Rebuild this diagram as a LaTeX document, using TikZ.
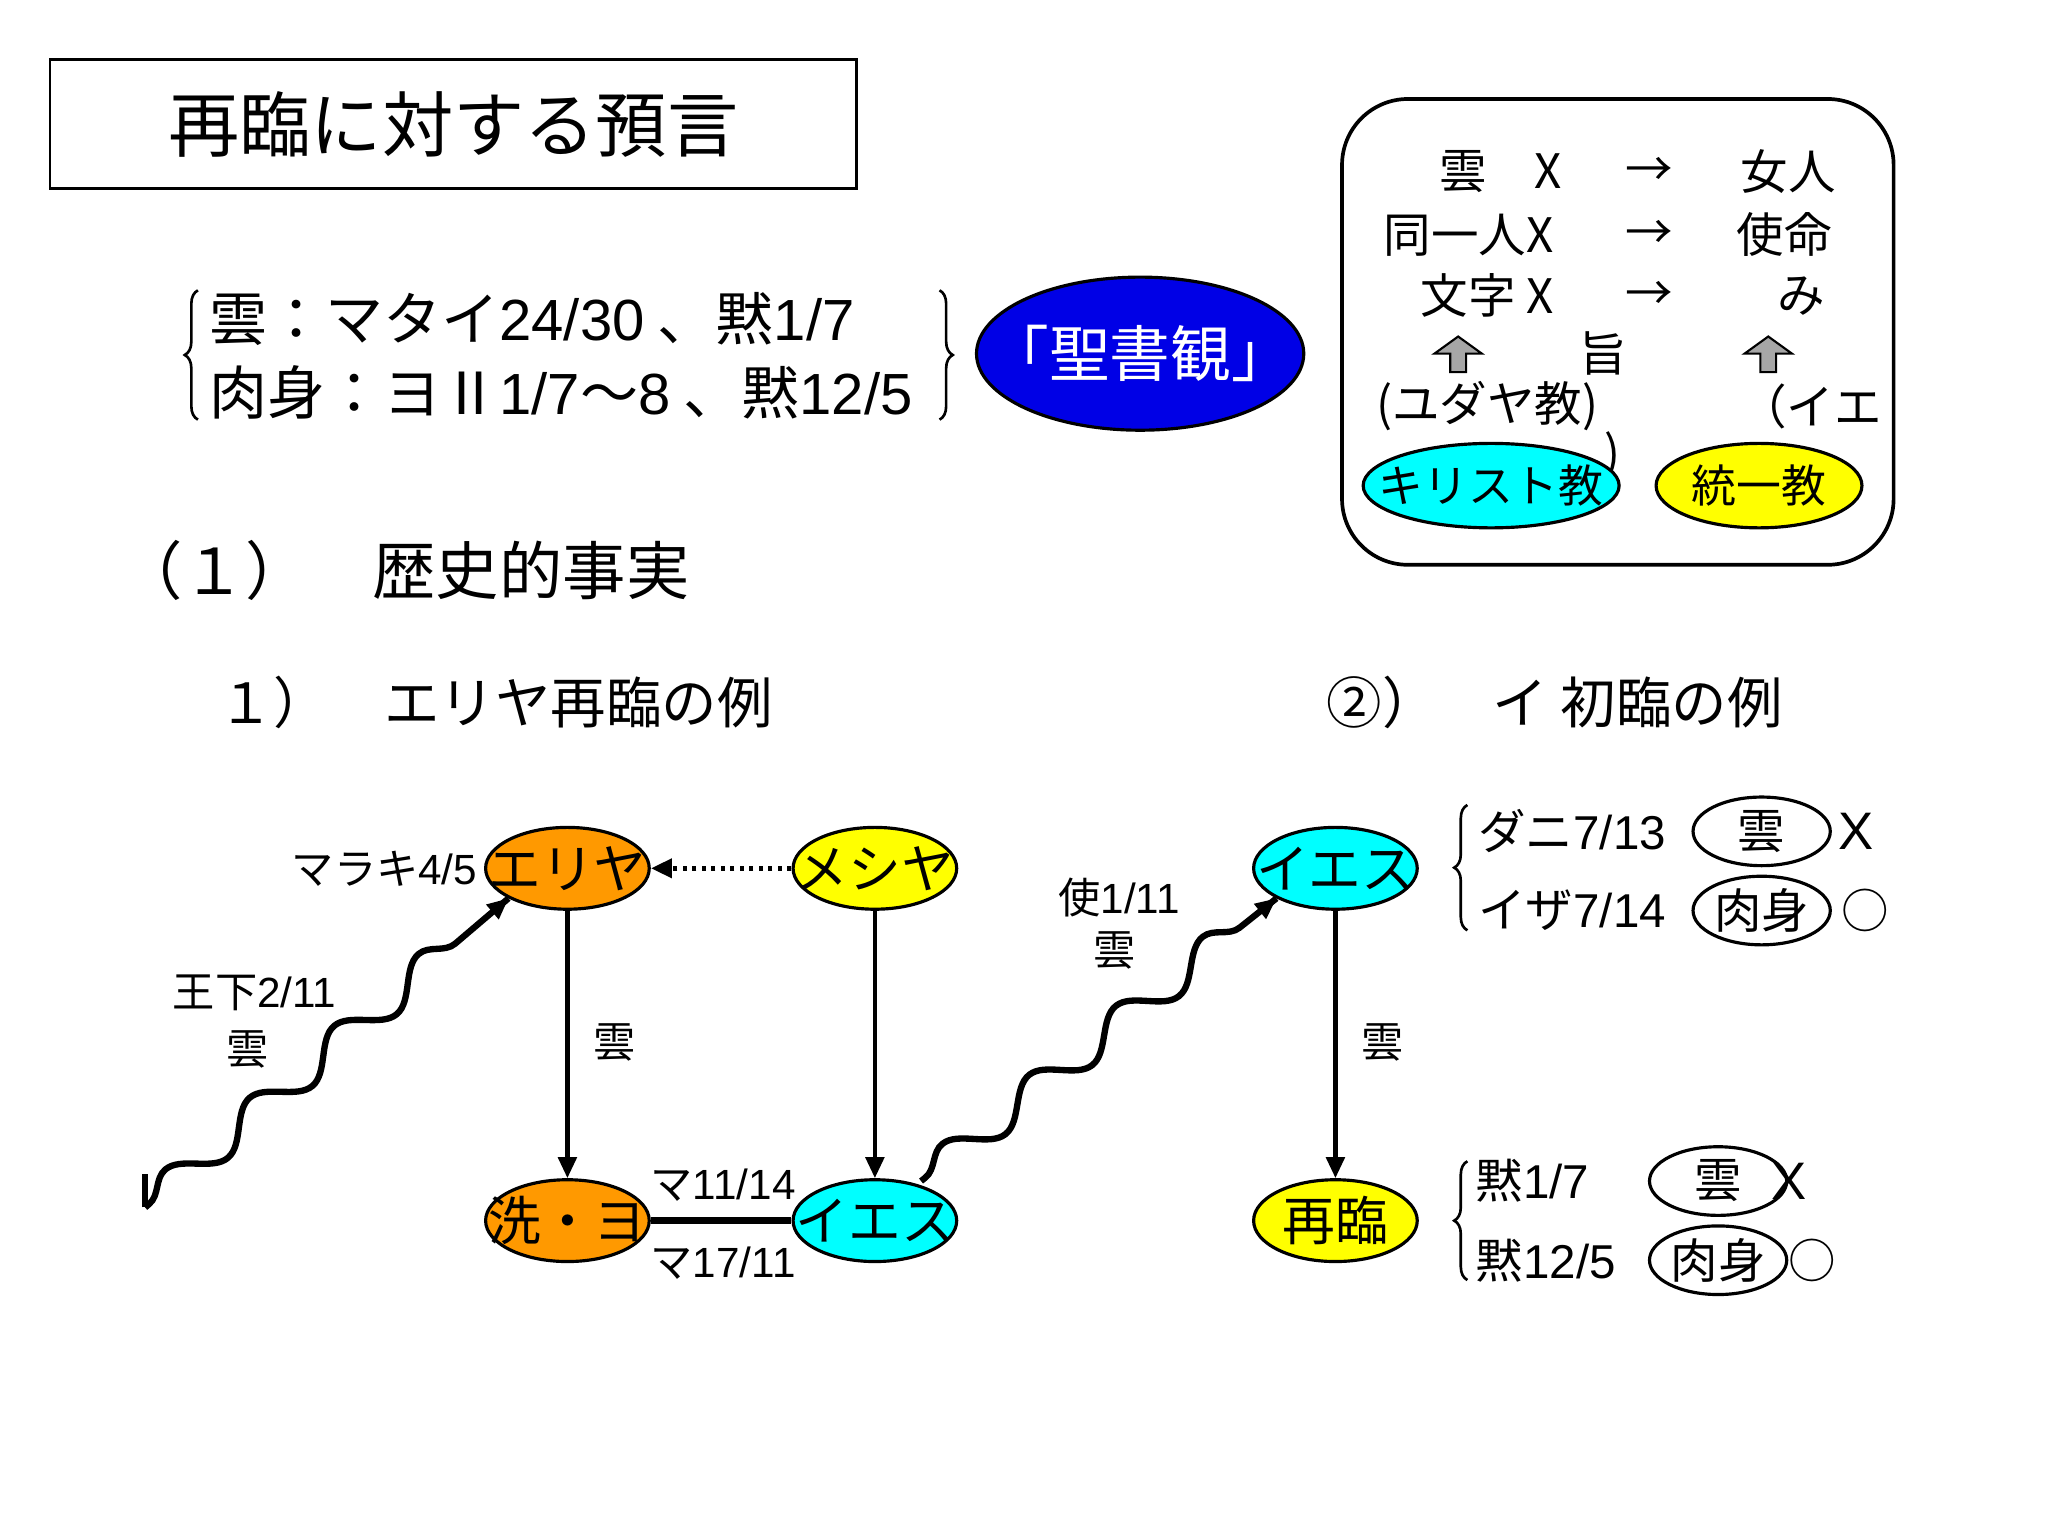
\documentclass[tikz,border=0pt]{standalone}
\usepackage{fontspec}
\setmainfont{Liberation Sans}
\newfontfamily\cjk{Noto Sans CJK JP}
\usetikzlibrary{decorations.pathmorphing,decorations.pathreplacing,arrows.meta,shapes.geometric,calc}
\definecolor{cy}{RGB}{0,255,255}
\definecolor{ye}{RGB}{255,255,0}
\definecolor{og}{RGB}{255,153,0}
\definecolor{bl}{RGB}{0,0,230}
\begin{document}
\begin{tikzpicture}[x=0.5pt,y=-0.5pt,
 every node/.style={font=\cjk},
 oval/.style={draw,line width=1.2pt,ellipse,inner sep=0pt,minimum width=62pt,minimum height=31pt,label={[font=\cjk\fontsize{20}{20}\selectfont]center:#1}},
 sm/.style={draw,line width=1.2pt,ellipse,inner sep=0pt,minimum width=52pt,minimum height=26pt,label={[font=\cjk\fontsize{18}{18}\selectfont]center:#1}},
 lab/.style={font=\cjk\fontsize{16}{16}\selectfont,inner sep=0pt},
 arr/.style={-{Triangle[length=8pt,width=7pt]},line width=1.6pt},
 br/.style={decorate,decoration={brace,amplitude=5pt},line width=1pt},
 wave/.style={line width=2.4pt,decorate,decoration={snake,amplitude=6pt,segment length=42pt,pre length=2pt,post length=8pt}}]
\useasboundingbox (0,0) rectangle (1552,1164);
% title
\node[draw,line width=1pt,minimum width=305.5pt,minimum height=49pt,font=\cjk\fontsize{27}{27}\selectfont] (title) at (343.5,94) {再臨に対する預言};
% prophecy lines
\draw[br] (150,318) -- (150,220);
\draw[br] (712,220) -- (712,318);
\node[anchor=west,font=\cjk\fontsize{22}{22}\selectfont,inner sep=0pt] (p1) at (158,242) {雲：マタイ{\rmfamily 24/30} 、黙{\rmfamily 1/7}};
\node[anchor=west,font=\cjk\fontsize{22}{22}\selectfont,inner sep=0pt] (p2) at (158,297) {肉身：ヨⅡ{\rmfamily 1/7}～{\rmfamily 8} 、黙{\rmfamily 12/5}};
\node[draw,line width=1.2pt,fill=bl,ellipse,inner sep=0pt,minimum width=124pt,minimum height=58pt,label={[text=white,font=\cjk\fontsize{23}{23}\selectfont]center:「聖書観」}] (seisho) at (864,268) {};
% right box
\draw[line width=1.4pt,rounded corners=25pt] (1017,75) rectangle (1435,428);
\tikzset{bx/.style={font=\cjk\fontsize{18}{18}\selectfont,inner sep=0pt}}
\node[bx] (r1a) at (1137,130) {雲　X};
\node[bx] (r1b) at (1250,130) {→};
\node[bx] (r1c) at (1355,130) {女人};
\node[bx] (r2a) at (1113,178) {同一人X};
\node[bx] (r2b) at (1250,178) {→};
\node[bx] (r2c) at (1352,178) {使命};
\node[bx] (r3a) at (1127,224) {文字 X};
\node[bx] (r3b) at (1250,224) {→};
\node[bx] (r3c) at (1365,224) {み};
\node[bx] (r4) at (1215,268) {旨};
\foreach \x in {1105,1340}{
 \draw[fill=gray!70,line width=0.8pt] (\x-6,282) -- (\x-6,268) -- (\x-18,268) -- (\x,255) -- (\x+18,268) -- (\x+6,268) -- (\x+6,282) -- cycle;}
\node[bx] (yu) at (1127,308) {(ユダヤ教)};
\node[bx] (ie) at (1372,308) {（イエ};
\node[bx] (pa) at (1222,345) {)};
\node[draw,line width=1.2pt,fill=cy,ellipse,inner sep=0pt,minimum width=97pt,minimum height=32pt,label={[font=\cjk\fontsize{17}{17}\selectfont]center:キリスト教}] (kiri) at (1130,368) {};
\node[draw,line width=1.2pt,fill=ye,ellipse,inner sep=0pt,minimum width=78pt,minimum height=32pt,label={[font=\cjk\fontsize{17}{17}\selectfont]center:統一教}] (toitsu) at (1333,368) {};
% headings
\node[anchor=west,font=\cjk\fontsize{24}{24}\selectfont,inner sep=0pt] (h1) at (90,432) {（１）　歴史的事実};
\node[anchor=west,font=\cjk\fontsize{21}{21}\selectfont,inner sep=0pt] (h2) at (165,532) {１）　エリヤ再臨の例};
\node[anchor=west,font=\cjk\fontsize{21}{21}\selectfont,inner sep=0pt] (h3) at (1005,532) {②）　イ 初臨の例};
% nodes
\node[oval=エリヤ,fill=og] (eliya) at (430,658) {};
\node[oval=メシヤ,fill=ye] (mesiya) at (663,658) {};
\node[oval=洗・ヨ,fill=og] (senyo) at (430,925) {};
\node[oval=イエス,fill=cy] (iesu) at (663,925) {};
\node[oval=イエス,fill=cy] (iesu2) at (1012,658) {};
\node[oval=再臨,fill=ye] (sairin) at (1012,925) {};
\draw[arr,dotted,line width=2pt] (mesiya) -- (eliya);
\draw[arr] (eliya) -- (senyo);
\draw[arr] (mesiya) -- (iesu);
\draw[line width=2.4pt] (senyo) -- (iesu);
\draw[arr] (iesu2) -- (sairin);
% labels
\node[lab,anchor=east] (l1) at (362,658) {マラキ{\rmfamily 4/5}};
\node[lab] (l2) at (466,790) {雲};
\node[lab] (l3) at (548,898) {マ{\rmfamily 11/14}};
\node[lab] (l4) at (548,957) {マ{\rmfamily 17/11}};
\node[lab] (l5) at (848,680) {使{\rmfamily 1/11}};
\node[lab] (l6) at (845,720) {雲};
\node[lab] (l7) at (193,752) {王下{\rmfamily 2/11}};
\node[lab] (l8) at (188,795) {雲};
\node[lab] (l9) at (1048,790) {雲};
% wavy arrows
\coordinate (w1s) at (110,915);
\coordinate (w2s) at (698,895);
\draw[wave] (w1s) -- (eliya.south west);
\draw[arr] ($(eliya.south west)!14pt!(w1s)$) -- (eliya.south west);
\draw[wave] (w2s) -- (iesu2.south west);
\draw[arr] ($(iesu2.south west)!14pt!(w2s)$) -- (iesu2.south west);
\draw[line width=2.4pt] (w1s) -- ++(0,-25);
% right texts
\tikzset{rt/.style={font=\cjk\fontsize{18}{18}\selectfont,inner sep=0pt,anchor=west}}
\draw[br] (1112,705) -- (1112,610);
\node[rt] (d1) at (1120,630) {ダニ{\rmfamily 7/13}};
\node[sm=雲] (d1e) at (1335,630) {};
\node[rt,font=\rmfamily\fontsize{20}{20}\selectfont] (d1x) at (1393,630) {X};
\node[rt] (d2) at (1120,690) {イザ{\rmfamily 7/14}};
\node[sm=肉身] (d2e) at (1335,690) {};
\node[rt] (d2o) at (1395,690) {○};
\draw[br] (1112,970) -- (1112,880);
\node[rt] (b1) at (1118,895) {黙{\rmfamily 1/7}};
\node[sm=雲] (b1e) at (1302,895) {};
\node[rt,font=\rmfamily\fontsize{20}{20}\selectfont] (b1x) at (1342,895) {X};
\node[rt] (b2) at (1118,955) {黙{\rmfamily 12/5}};
\node[sm=肉身] (b2e) at (1302,955) {};
\node[rt] (b2o) at (1355,955) {○};
\end{tikzpicture}
\end{document}
